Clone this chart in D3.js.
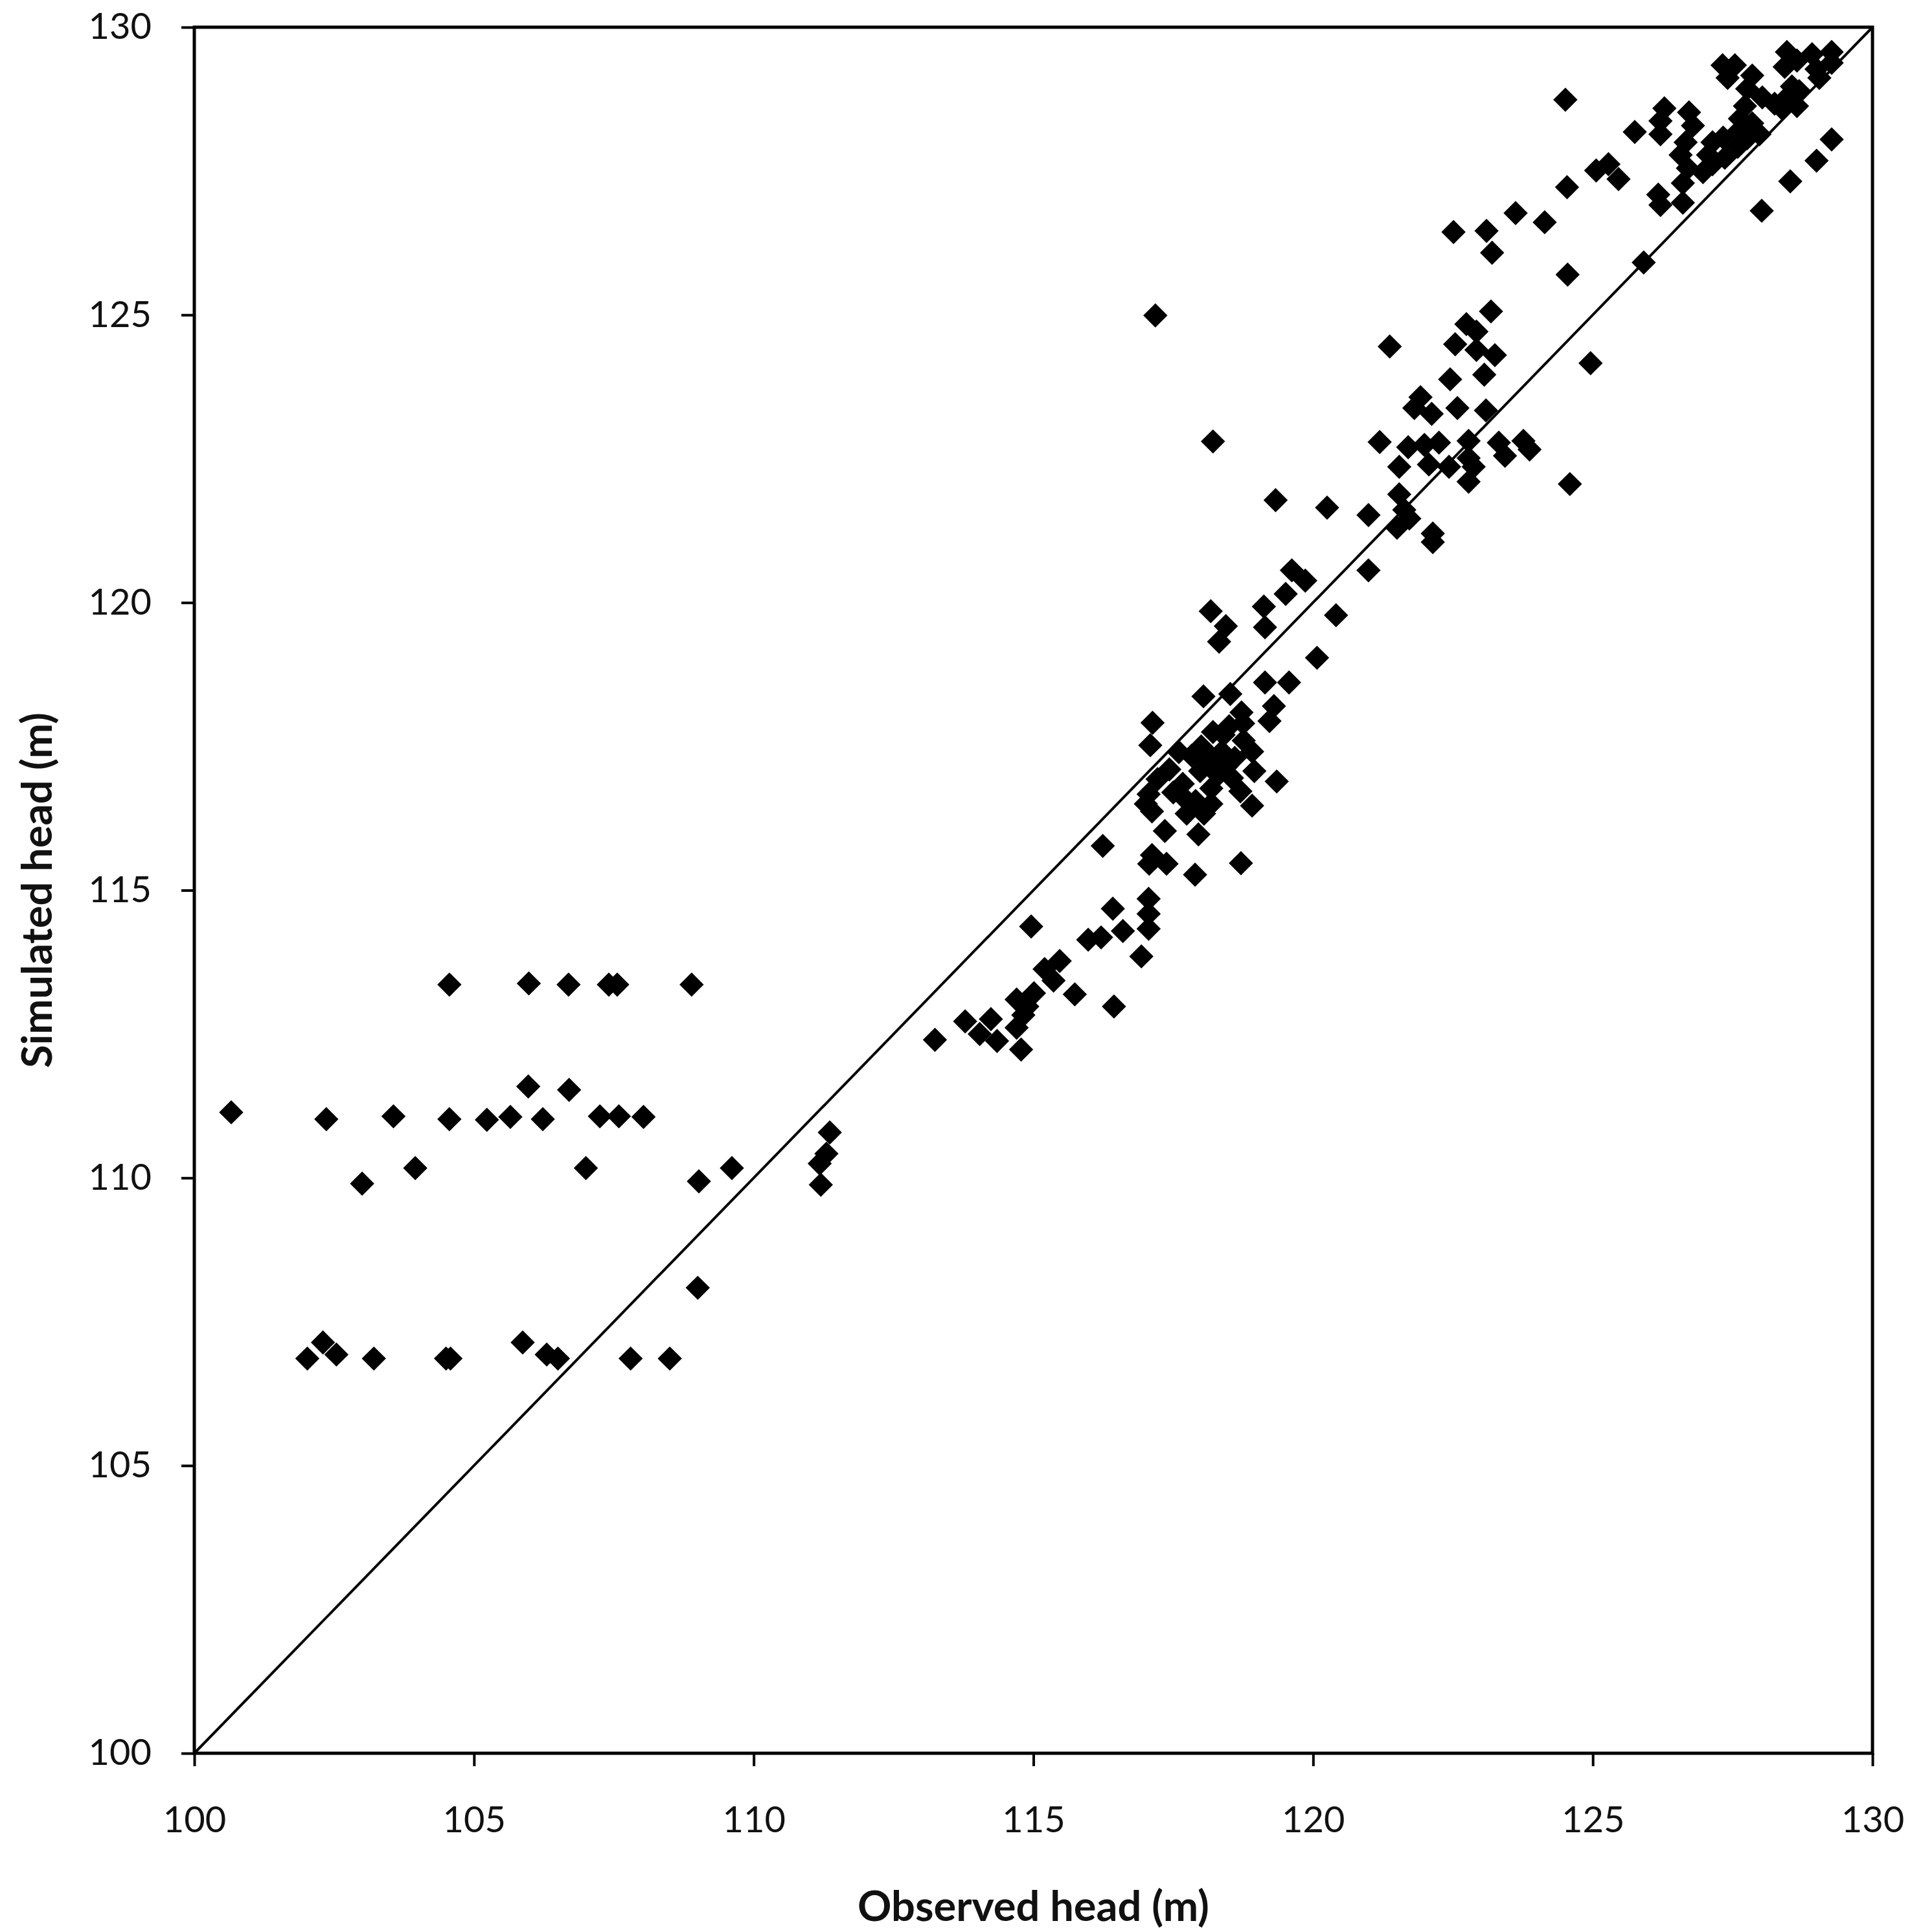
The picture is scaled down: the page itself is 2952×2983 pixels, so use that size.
<!DOCTYPE html>
<html>
<head>
<meta charset="utf-8">
<script src="https://cdn.jsdelivr.net/npm/d3@7"></script>
<style>
  body { margin: 0; background: #fff; }
  text { font-family: Lato, "Open Sans", sans-serif; fill: #111; }
</style>
</head>
<body>
<script>
// observed head (m) on X, simulated head (m) on Y
var observado = [
  104.56, 105.98, 106.69, 107.41, 107.56, 108.89, 105.97, 106.70, 100.66, 102.36,
  103.56, 104.56, 105.23, 105.65, 106.23, 107.25, 107.59, 108.03, 103.95, 103.00,
  107.00, 109.02, 109.00, 102.02, 102.30, 102.54, 103.21, 104.50, 104.58, 105.87,
  106.30, 106.50, 107.80, 108.50, 109.61, 111.36, 111.30, 111.18, 111.20,
  113.24, 113.78, 114.24, 114.04, 114.35, 114.70, 114.78, 114.70, 114.89, 114.82,
  115.01, 115.20, 115.36, 115.47, 115.74, 115.98, 116.21, 116.44, 116.93, 114.96,
  116.24, 117.12, 117.07, 117.38, 117.89, 118.71, 117.06, 117.06, 117.06, 116.42,
  116.60, 117.13, 117.09, 117.06, 117.22, 117.43, 117.01, 117.12, 117.74, 118.05,
  118.18, 117.35, 117.95, 118.32,
  118.04, 118.52, 119.14, 119.57, 119.30, 119.22, 118.72, 118.21, 118.76, 118.91,
  117.83, 118.37, 118.45, 118.95, 117.98, 119.35, 118.70, 117.67, 118.18, 118.91,
  117.75, 118.60, 118.10, 118.30, 118.55, 118.00, 118.40, 117.50, 117.60, 118.20,
  117.90, 118.50, 118.75,
  118.21, 119.33, 120.25, 120.99, 120.99, 119.62, 119.86, 119.51, 119.12, 118.17,
  118.44, 119.14, 120.41, 120.07,
  123.18, 121.37, 122.74, 122.92, 122.54, 122.92, 123.25, 124.96, 123.06, 122.45,
  121.92, 121.81, 122.12, 122.58, 123.09, 121.19, 121.70, 121.54, 121.99, 122.25,
  122.07, 122.43, 122.78, 122.78, 122.87, 122.78, 123.32, 123.43, 123.76, 123.87,
  124.59, 121.54, 121.63, 121.72, 121.50, 122.14, 122.14,
  124.51, 124.54, 123.62, 124.14, 123.10, 123.20, 124.55, 125.91, 125.75, 125.06,
  125.28, 125.46, 126.28, 126.21, 126.21, 126.72, 126.79, 126.17, 126.21, 126.61,
  126.61, 126.70, 126.57, 126.66, 127.14, 127.06, 127.33, 126.97, 127.14, 127.36,
  127.59, 127.76, 127.63, 127.59, 127.85, 127.32, 127.54, 127.41, 127.85, 127.76,
  127.72, 128.03, 128.25, 128.47, 128.43, 128.65, 128.92, 129.00, 129.27, 129.27,
  128.56, 128.47, 128.69, 129.05, 128.65, 127.98, 128.38, 129.27, 129.00, 128.53,
  128.02, 122.51, 117.18
]

var simulado = [
  113.36, 113.38, 113.36, 113.36, 113.36, 113.36, 111.59, 111.53, 111.14, 111.02,
  111.07, 111.02, 111.01, 111.06, 111.02, 111.07, 111.07, 111.06, 110.17, 109.90,
  110.17, 109.94, 108.09, 106.86, 107.14, 106.93, 106.86, 106.86, 106.86, 107.14,
  106.93, 106.86, 106.86, 106.86, 110.17, 110.79, 110.42, 110.25, 109.88,
  112.40, 112.72, 112.76, 112.50, 112.38, 112.61, 112.23, 113.10, 112.98, 112.83,
  113.21, 113.63, 113.43, 113.77, 113.19, 114.14, 114.18, 112.98, 113.85, 114.37,
  115.77, 115.61, 115.46, 115.46, 115.27, 115.47, 114.85, 114.59, 114.33, 114.68,
  114.29, 117.91, 117.52, 116.67, 116.93, 117.10, 116.50, 116.37, 116.33, 116.33,
  116.50, 116.03, 115.97, 119.32,
  118.37, 118.41, 118.61, 118.61, 118.20, 117.94, 118.09, 117.75, 117.60, 117.41,
  117.34, 117.41, 117.15, 117.07, 117.07, 116.89, 116.72, 116.85, 116.77, 116.47,
  116.55, 117.30, 117.20, 117.00, 116.95, 117.50, 117.70, 116.70, 117.40, 117.30,
  116.55, 117.85, 117.90,
  122.80, 121.78, 121.65, 121.52, 120.56, 120.56, 120.38, 120.15, 119.93, 119.85,
  119.59, 119.57, 119.78, 119.04,
  125.06, 124.45, 124.84, 124.71, 124.49, 124.39, 124.30, 124.16, 123.96, 123.88,
  123.57, 123.38, 123.28, 123.38, 123.34, 122.79, 122.70, 122.36, 122.74, 122.78,
  122.40, 122.36, 122.81, 122.51, 122.36, 122.10, 122.78, 122.55, 122.81, 122.66,
  122.06, 121.88, 121.61, 121.46, 121.30, 121.20, 121.05,
  128.74, 127.22, 126.77, 126.61, 126.46, 126.08, 125.70, 125.91, 128.18, 127.51,
  127.62, 127.36, 128.59, 128.37, 128.14, 128.52, 128.29, 127.09, 126.91, 126.95,
  127.29, 127.55, 127.78, 128.00, 128.00, 127.78, 128.08, 127.48, 127.62, 127.73,
  127.92, 128.07, 128.41, 128.18, 128.33, 129.34, 129.34, 129.12, 129.16, 128.93,
  128.63, 128.78, 128.67, 129.57, 129.31, 129.42, 129.53, 129.27, 129.57, 129.38,
  128.97, 128.78, 128.89, 129.12, 128.63, 128.14, 128.59, 128.05, 127.68, 127.32,
  126.81, 126.44, 124.99
]

var ticks = [100, 105, 110, 115, 120, 125, 130]

var width = 2952
var height = 2983

var margin = {
    top: 42,
    bottom: 276,
    left: 300,
    right: 61
}

var datos = observado.map(function(d, i) {
    return { obs: d, sim: simulado[i] }
})

var escalaX = d3.scaleLinear()
    .domain([100, 130])
    .range([margin.left, width - margin.right])

var escalaY = d3.scaleLinear()
    .domain([100, 130])
    .range([height - margin.bottom, margin.top])

var svg = d3.select("body")
    .append("svg")
    .attr("width", width)
    .attr("height", height)

// linea 1:1
svg.append("line")
    .attr("x1", escalaX(100))
    .attr("y1", escalaY(100))
    .attr("x2", escalaX(130))
    .attr("y2", escalaY(130))
    .attr("stroke", "#000")
    .attr("stroke-width", 4)

// puntos en forma de rombo (cuadrado girado 45 grados)
var rombo = d3.symbol().type(d3.symbolSquare).size(700)

svg.append("g")
    .selectAll("path")
    .data(datos)
    .enter()
    .append("path")
    .attr("d", rombo)
    .attr("transform", d => "translate(" + escalaX(d.obs) + "," + escalaY(d.sim) + ") rotate(45)")
    .attr("fill", "#000")

// ejes
var ejeX = d3.axisBottom(escalaX)
    .tickValues(ticks)
    .tickSize(20)
    .tickSizeOuter(0)
    .tickPadding(62)

var ejeY = d3.axisLeft(escalaY)
    .tickValues(ticks)
    .tickSize(20)
    .tickSizeOuter(0)
    .tickPadding(46)

svg.append("g")
    .attr("transform", "translate(0," + (height - margin.bottom) + ")")
    .call(ejeX)

svg.append("g")
    .attr("transform", "translate(" + margin.left + ",0)")
    .call(ejeY)

svg.selectAll(".tick line").attr("stroke", "#000").attr("stroke-width", 4)
svg.selectAll(".domain").attr("stroke", "none")
svg.selectAll(".tick text")
    .attr("font-size", 56)
    .attr("font-family", "Lato, 'Open Sans', sans-serif")
    .attr("fill", "#111")

// marco del area de trazado
svg.append("rect")
    .attr("x", margin.left)
    .attr("y", margin.top)
    .attr("width", width - margin.left - margin.right)
    .attr("height", height - margin.top - margin.bottom)
    .attr("fill", "none")
    .attr("stroke", "#000")
    .attr("stroke-width", 5)

// titulos de los ejes
svg.append("text")
    .attr("x", (margin.left + width - margin.right) / 2)
    .attr("y", 2966)
    .attr("text-anchor", "middle")
    .attr("font-size", 65)
    .attr("font-weight", "bold")
    .text("Observed head (m)")

svg.append("text")
    .attr("transform", "translate(80," + (margin.top + height - margin.bottom) / 2 + ") rotate(-90)")
    .attr("text-anchor", "middle")
    .attr("font-size", 65)
    .attr("font-weight", "bold")
    .text("Simulated head (m)")
</script>
</body>
</html>
